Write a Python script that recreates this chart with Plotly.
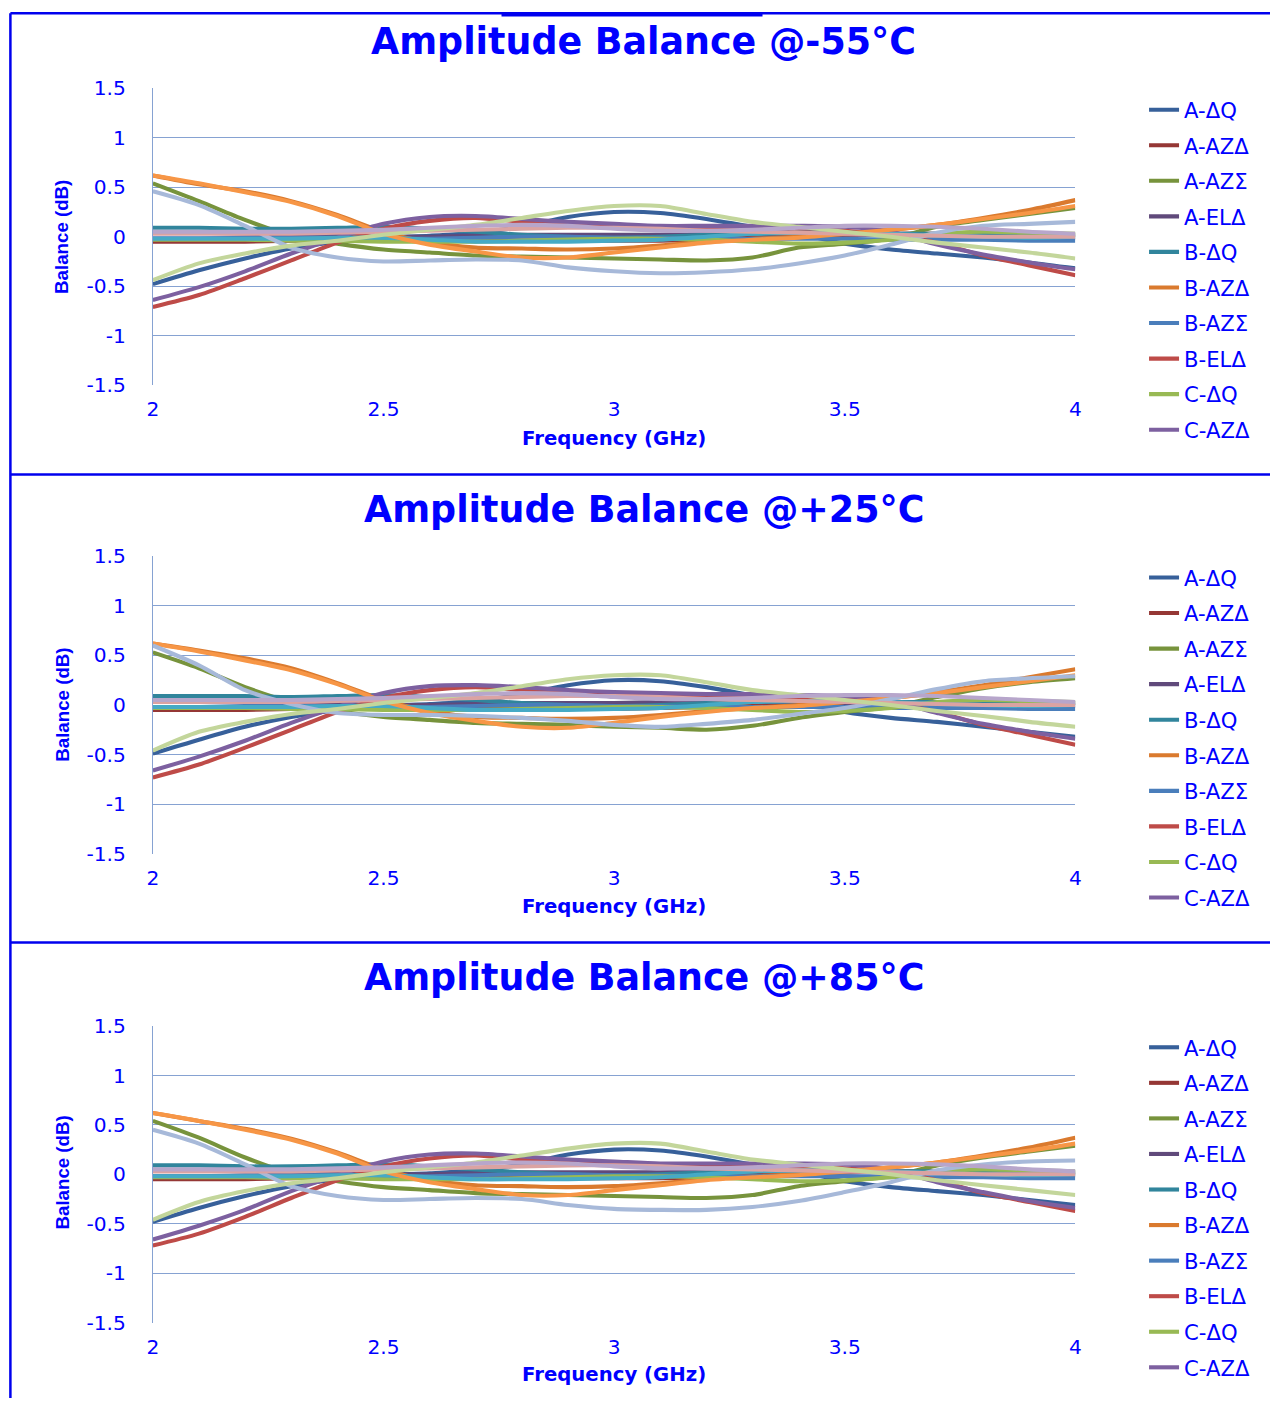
import plotly.graph_objects as go

# Frequency sweep shared by every trace (GHz)
FREQ_GHZ = [2.0, 2.1, 2.2, 2.3, 2.4, 2.5, 2.6, 2.7, 2.8, 2.9, 3.0,
            3.1, 3.2, 3.3, 3.4, 3.5, 3.6, 3.7, 3.8, 3.9, 4.0]

SERIES_NAMES = ["A-ΔQ", "A-AZΔ", "A-AZΣ", "A-ELΔ",
                "B-ΔQ", "B-AZΔ", "B-AZΣ", "B-ELΔ",
                "C-ΔQ", "C-AZΔ", "C-AZΣ", "C-ELΔ",
                "D-ΔQ", "D-AZΔ", "D-AZΣ", "D-ELΔ"]
SERIES_COLORS = ["#37609A", "#953735", "#77933C", "#604A7B",
                 "#31859C", "#DA7A2E", "#4A7EBB", "#BE4B48",
                 "#98B954", "#7D60A0", "#46AAC5", "#F79646",
                 "#A7B9D9", "#DBA3A2", "#C3D69B", "#B7A6CB"]
LEGEND_ENTRIES = 10  # only the first ten series are listed in each legend

PANEL_TITLES = ["Amplitude Balance @-55°C",
                "Amplitude Balance @+25°C",
                "Amplitude Balance @+85°C"]

Y_TICKS = [-1.5, -1.0, -0.5, 0.0, 0.5, 1.0, 1.5]
Y_TICK_LABELS = ["-1.5", "-1", "-0.5", "0", "0.5", "1", "1.5"]
X_TICKS = [2.0, 2.5, 3.0, 3.5, 4.0]
X_TICK_LABELS = ["2", "2.5", "3", "3.5", "4"]

# ---- amplitude balance (dB) at -55 °C ----
M55_A_DQ = [-0.48, -0.34, -0.22, -0.12, -0.05, -0.01, 0.01, 0.04, 0.10, 0.20, 0.25, 0.24, 0.18, 0.10, 0.03, -0.07, -0.13, -0.17, -0.21, -0.26, -0.32]
M55_A_AZD = [-0.05, -0.05, -0.05, -0.04, -0.03, -0.02, -0.02, -0.03, -0.04, -0.04, -0.04, -0.04, -0.03, -0.01, 0.01, 0.02, 0.03, 0.03, 0.02, 0.02, 0.02]
M55_A_AZS = [0.54, 0.36, 0.17, 0.01, -0.07, -0.13, -0.16, -0.19, -0.20, -0.21, -0.22, -0.23, -0.24, -0.21, -0.11, -0.07, -0.02, 0.10, 0.17, 0.23, 0.29]
M55_A_ELD = [0.04, 0.04, 0.03, 0.02, 0.01, 0.00, 0.00, 0.01, 0.02, 0.02, 0.02, 0.02, 0.03, 0.03, 0.03, 0.03, 0.02, 0.01, 0.00, -0.01, -0.01]
M55_B_DQ = [0.09, 0.09, 0.08, 0.08, 0.09, 0.10, 0.08, 0.05, 0.02, 0.00, -0.01, 0.00, 0.02, 0.03, 0.04, 0.04, 0.03, 0.03, 0.02, 0.02, 0.02]
M55_B_AZD = [0.62, 0.53, 0.46, 0.36, 0.22, 0.05, -0.06, -0.11, -0.12, -0.13, -0.12, -0.09, -0.05, -0.02, 0.00, 0.03, 0.07, 0.12, 0.19, 0.27, 0.37]
M55_B_AZS = [-0.02, -0.02, -0.01, -0.01, -0.01, -0.02, -0.02, -0.01, 0.00, 0.00, -0.01, -0.01, -0.02, -0.02, -0.02, -0.02, -0.03, -0.03, -0.03, -0.04, -0.04]
M55_B_ELD = [-0.71, -0.59, -0.42, -0.24, -0.06, 0.08, 0.16, 0.19, 0.15, 0.12, 0.10, 0.09, 0.09, 0.09, 0.08, 0.06, 0.02, -0.06, -0.19, -0.29, -0.39]
M55_C_DQ = [-0.03, -0.03, -0.03, -0.04, -0.04, -0.05, -0.05, -0.05, -0.04, -0.03, -0.02, -0.02, -0.03, -0.05, -0.07, -0.06, -0.03, 0.03, 0.05, 0.04, 0.03]
M55_C_AZD = [-0.64, -0.51, -0.35, -0.17, -0.01, 0.13, 0.20, 0.21, 0.18, 0.15, 0.13, 0.11, 0.11, 0.11, 0.11, 0.10, 0.05, -0.08, -0.18, -0.26, -0.33]
M55_C_AZS = [-0.02, -0.02, -0.02, -0.02, -0.01, -0.01, -0.03, -0.05, -0.05, -0.05, -0.04, -0.03, 0.00, 0.03, 0.04, 0.04, 0.03, 0.01, 0.00, -0.01, 0.00]
M55_C_ELD = [0.62, 0.54, 0.45, 0.35, 0.21, 0.03, -0.08, -0.15, -0.21, -0.21, -0.16, -0.11, -0.06, -0.03, -0.01, 0.03, 0.07, 0.12, 0.18, 0.24, 0.31]
M55_D_DQ = [0.46, 0.32, 0.11, -0.11, -0.21, -0.25, -0.24, -0.23, -0.24, -0.31, -0.35, -0.37, -0.36, -0.33, -0.27, -0.19, -0.08, 0.04, 0.11, 0.13, 0.15]
M55_D_AZD = [0.03, 0.03, 0.03, 0.03, 0.04, 0.05, 0.06, 0.07, 0.08, 0.09, 0.09, 0.08, 0.06, 0.05, 0.04, 0.03, 0.02, 0.01, 0.00, 0.00, 0.00]
M55_D_AZS = [-0.44, -0.27, -0.17, -0.09, -0.04, 0.02, 0.07, 0.12, 0.19, 0.26, 0.31, 0.31, 0.23, 0.15, 0.10, 0.05, 0.00, -0.06, -0.11, -0.16, -0.22]
M55_D_ELD = [0.05, 0.05, 0.05, 0.05, 0.06, 0.07, 0.09, 0.11, 0.12, 0.11, 0.08, 0.06, 0.06, 0.07, 0.09, 0.11, 0.11, 0.10, 0.08, 0.05, 0.03]

# ---- amplitude balance (dB) at +25 °C ----
P25_A_DQ = [-0.49, -0.35, -0.22, -0.12, -0.05, -0.01, 0.01, 0.04, 0.11, 0.20, 0.25, 0.24, 0.18, 0.10, 0.03, -0.07, -0.13, -0.17, -0.22, -0.27, -0.32]
P25_A_AZD = [-0.05, -0.05, -0.05, -0.04, -0.03, -0.02, -0.02, -0.03, -0.04, -0.04, -0.04, -0.03, -0.02, -0.01, 0.01, 0.02, 0.02, 0.03, 0.02, 0.02, 0.02]
P25_A_AZS = [0.53, 0.37, 0.18, 0.03, -0.06, -0.12, -0.15, -0.18, -0.19, -0.20, -0.22, -0.23, -0.25, -0.21, -0.13, -0.07, -0.02, 0.08, 0.17, 0.23, 0.27]
P25_A_ELD = [0.04, 0.04, 0.03, 0.02, 0.01, 0.00, 0.00, 0.01, 0.02, 0.02, 0.02, 0.03, 0.03, 0.03, 0.03, 0.02, 0.02, 0.01, 0.00, -0.01, -0.01]
P25_B_DQ = [0.09, 0.09, 0.09, 0.08, 0.09, 0.10, 0.08, 0.05, 0.02, 0.00, -0.01, 0.00, 0.02, 0.03, 0.04, 0.04, 0.03, 0.03, 0.02, 0.02, 0.02]
P25_B_AZD = [0.62, 0.55, 0.47, 0.37, 0.22, 0.05, -0.06, -0.12, -0.13, -0.14, -0.13, -0.10, -0.06, -0.03, 0.00, 0.03, 0.07, 0.13, 0.20, 0.28, 0.36]
P25_B_AZS = [-0.02, -0.02, -0.01, -0.01, -0.01, -0.02, -0.02, -0.01, 0.00, 0.00, -0.01, -0.01, -0.02, -0.02, -0.02, -0.02, -0.03, -0.03, -0.03, -0.04, -0.04]
P25_B_ELD = [-0.73, -0.60, -0.43, -0.25, -0.07, 0.07, 0.15, 0.18, 0.15, 0.12, 0.10, 0.09, 0.09, 0.08, 0.08, 0.06, 0.02, -0.07, -0.20, -0.30, -0.40]
P25_C_DQ = [-0.03, -0.03, -0.03, -0.04, -0.04, -0.05, -0.05, -0.05, -0.04, -0.03, -0.02, -0.02, -0.03, -0.05, -0.07, -0.06, -0.03, 0.03, 0.05, 0.04, 0.03]
P25_C_AZD = [-0.66, -0.52, -0.36, -0.18, -0.02, 0.12, 0.19, 0.20, 0.18, 0.15, 0.13, 0.12, 0.11, 0.11, 0.10, 0.09, 0.04, -0.08, -0.19, -0.27, -0.34]
P25_C_AZS = [-0.02, -0.02, -0.02, -0.02, -0.01, -0.01, -0.03, -0.05, -0.05, -0.05, -0.04, -0.03, 0.00, 0.03, 0.04, 0.04, 0.03, 0.01, 0.00, -0.01, 0.00]
P25_C_ELD = [0.62, 0.54, 0.45, 0.35, 0.21, 0.04, -0.08, -0.16, -0.22, -0.23, -0.18, -0.12, -0.07, -0.03, -0.01, 0.03, 0.07, 0.12, 0.18, 0.24, 0.30]
P25_D_DQ = [0.60, 0.40, 0.15, 0.01, -0.08, -0.10, -0.10, -0.11, -0.13, -0.16, -0.20, -0.22, -0.19, -0.15, -0.09, -0.03, 0.06, 0.16, 0.24, 0.27, 0.29]
P25_D_AZD = [0.03, 0.03, 0.03, 0.03, 0.04, 0.05, 0.06, 0.07, 0.08, 0.09, 0.09, 0.08, 0.06, 0.05, 0.04, 0.03, 0.02, 0.01, 0.00, 0.00, 0.00]
P25_D_AZS = [-0.46, -0.27, -0.17, -0.09, -0.04, 0.02, 0.07, 0.12, 0.19, 0.26, 0.30, 0.30, 0.23, 0.15, 0.10, 0.05, 0.00, -0.06, -0.11, -0.17, -0.22]
P25_D_ELD = [0.05, 0.05, 0.05, 0.05, 0.06, 0.07, 0.09, 0.11, 0.12, 0.11, 0.08, 0.06, 0.06, 0.07, 0.09, 0.10, 0.10, 0.09, 0.07, 0.05, 0.03]

# ---- amplitude balance (dB) at +85 °C ----
P85_A_DQ = [-0.48, -0.34, -0.22, -0.12, -0.05, -0.01, 0.01, 0.04, 0.10, 0.20, 0.25, 0.24, 0.18, 0.10, 0.03, -0.07, -0.13, -0.17, -0.21, -0.26, -0.31]
P85_A_AZD = [-0.05, -0.05, -0.05, -0.04, -0.03, -0.02, -0.02, -0.03, -0.04, -0.04, -0.04, -0.04, -0.03, -0.01, 0.01, 0.02, 0.03, 0.03, 0.02, 0.02, 0.02]
P85_A_AZS = [0.54, 0.37, 0.17, 0.01, -0.07, -0.13, -0.16, -0.19, -0.20, -0.21, -0.22, -0.23, -0.24, -0.21, -0.12, -0.07, -0.02, 0.09, 0.17, 0.23, 0.29]
P85_A_ELD = [0.04, 0.04, 0.03, 0.02, 0.01, 0.00, 0.00, 0.01, 0.02, 0.02, 0.02, 0.02, 0.03, 0.03, 0.03, 0.03, 0.02, 0.01, 0.00, -0.01, -0.01]
P85_B_DQ = [0.09, 0.09, 0.08, 0.08, 0.09, 0.10, 0.08, 0.05, 0.02, 0.00, -0.01, 0.00, 0.02, 0.03, 0.04, 0.04, 0.03, 0.03, 0.02, 0.02, 0.02]
P85_B_AZD = [0.62, 0.54, 0.46, 0.36, 0.22, 0.05, -0.06, -0.11, -0.12, -0.13, -0.12, -0.09, -0.05, -0.02, 0.00, 0.03, 0.07, 0.12, 0.19, 0.27, 0.37]
P85_B_AZS = [-0.02, -0.02, -0.01, -0.01, -0.01, -0.02, -0.02, -0.01, 0.00, 0.00, -0.01, -0.01, -0.02, -0.02, -0.02, -0.02, -0.03, -0.03, -0.03, -0.04, -0.04]
P85_B_ELD = [-0.72, -0.60, -0.43, -0.24, -0.06, 0.08, 0.16, 0.19, 0.15, 0.12, 0.10, 0.09, 0.09, 0.09, 0.08, 0.06, 0.02, -0.06, -0.19, -0.28, -0.37]
P85_C_DQ = [-0.03, -0.03, -0.03, -0.04, -0.04, -0.05, -0.05, -0.05, -0.04, -0.03, -0.02, -0.02, -0.03, -0.05, -0.07, -0.06, -0.03, 0.03, 0.05, 0.04, 0.03]
P85_C_AZD = [-0.66, -0.52, -0.36, -0.17, -0.01, 0.13, 0.20, 0.21, 0.18, 0.15, 0.13, 0.11, 0.11, 0.11, 0.11, 0.10, 0.05, -0.08, -0.18, -0.27, -0.34]
P85_C_AZS = [-0.02, -0.02, -0.02, -0.02, -0.01, -0.01, -0.03, -0.05, -0.05, -0.05, -0.04, -0.03, 0.00, 0.03, 0.04, 0.04, 0.03, 0.01, 0.00, -0.01, 0.00]
P85_C_ELD = [0.62, 0.54, 0.45, 0.35, 0.21, 0.03, -0.08, -0.15, -0.21, -0.21, -0.16, -0.11, -0.06, -0.03, -0.01, 0.03, 0.07, 0.12, 0.18, 0.24, 0.31]
P85_D_DQ = [0.45, 0.31, 0.10, -0.12, -0.22, -0.26, -0.25, -0.24, -0.25, -0.31, -0.35, -0.36, -0.36, -0.33, -0.27, -0.18, -0.08, 0.04, 0.10, 0.13, 0.14]
P85_D_AZD = [0.03, 0.03, 0.03, 0.03, 0.04, 0.05, 0.06, 0.07, 0.08, 0.09, 0.09, 0.08, 0.06, 0.05, 0.04, 0.03, 0.02, 0.01, 0.00, 0.00, 0.00]
P85_D_AZS = [-0.46, -0.28, -0.17, -0.09, -0.04, 0.02, 0.07, 0.12, 0.19, 0.26, 0.31, 0.31, 0.23, 0.15, 0.10, 0.05, 0.00, -0.06, -0.11, -0.16, -0.21]
P85_D_ELD = [0.05, 0.05, 0.05, 0.05, 0.06, 0.07, 0.09, 0.11, 0.12, 0.11, 0.08, 0.06, 0.06, 0.07, 0.09, 0.11, 0.11, 0.10, 0.08, 0.05, 0.03]

PANEL_SERIES = [
    [M55_A_DQ, M55_A_AZD, M55_A_AZS, M55_A_ELD, M55_B_DQ, M55_B_AZD, M55_B_AZS, M55_B_ELD,
     M55_C_DQ, M55_C_AZD, M55_C_AZS, M55_C_ELD, M55_D_DQ, M55_D_AZD, M55_D_AZS, M55_D_ELD],
    [P25_A_DQ, P25_A_AZD, P25_A_AZS, P25_A_ELD, P25_B_DQ, P25_B_AZD, P25_B_AZS, P25_B_ELD,
     P25_C_DQ, P25_C_AZD, P25_C_AZS, P25_C_ELD, P25_D_DQ, P25_D_AZD, P25_D_AZS, P25_D_ELD],
    [P85_A_DQ, P85_A_AZD, P85_A_AZS, P85_A_ELD, P85_B_DQ, P85_B_AZD, P85_B_AZS, P85_B_ELD,
     P85_C_DQ, P85_C_AZD, P85_C_AZS, P85_C_ELD, P85_D_DQ, P85_D_AZD, P85_D_AZS, P85_D_ELD],
]

# ---- page geometry ----
W, H = 1276, 1410
# The browser page shows the figure slightly inset and scaled; placements
# below are written in page pixels and mapped back into figure space.
PAGE_INSET_X, PAGE_INSET_Y = 2.6, 8.34
PAGE_SCALE_X, PAGE_SCALE_Y = 0.9944, 0.9876
TEXT_SCALE = 1.01

PLOT_L, PLOT_R = 150, 1076           # page x of the 2 GHz / 4 GHz edges
PANEL_TOP = [85, 555, 1027]          # page y of the +1.5 dB gridline
PANEL_BOTTOM = [383, 854, 1325]      # page y of the -1.5 dB gridline
PANEL_OFFSET = [0, 470, 940]

BLUE = "#0000FF"
GRID = "#86A2D2"
FONT = "DejaVu Sans"


def px(x):
    return (x / PAGE_SCALE_X - PAGE_INSET_X) / W


def py(y):
    return 1 - (y / PAGE_SCALE_Y - PAGE_INSET_Y) / H


def fs(size):
    return round(size * TEXT_SCALE, 1)


fig = go.Figure()
layout = dict(
    width=W, height=H,
    margin=dict(l=0, r=0, t=0, b=0),
    paper_bgcolor="white", plot_bgcolor="white",
    showlegend=True,
)
annotations = []
shapes = []

for p in range(3):
    sfx = "" if p == 0 else str(p + 1)
    xa, ya = "x" + sfx, "y" + sfx
    legend_id = "legend" + sfx
    for i, (name, vals) in enumerate(zip(SERIES_NAMES, PANEL_SERIES[p])):
        fig.add_trace(go.Scatter(
            x=FREQ_GHZ, y=vals, name=name, mode="lines",
            line=dict(color=SERIES_COLORS[i], width=4.1, shape="spline", smoothing=0.8),
            xaxis=xa, yaxis=ya, legend=legend_id,
            legendgroup=f"{p}-{i}",
            showlegend=i < LEGEND_ENTRIES,
            hovertemplate=name + ": %{y:.2f} dB @ %{x:.2f} GHz<extra></extra>",
        ))

    top, bottom = PANEL_TOP[p], PANEL_BOTTOM[p]
    layout["xaxis" + sfx] = dict(
        domain=[px(PLOT_L), px(PLOT_R)], anchor=ya, range=[2, 4],
        tickvals=X_TICKS, ticktext=X_TICK_LABELS, showgrid=False,
        zeroline=False, showline=False, ticks="", ticklabelstandoff=10,
        tickfont=dict(family=FONT, size=fs(20), color=BLUE), fixedrange=True,
    )
    layout["yaxis" + sfx] = dict(
        domain=[py(bottom), py(top)], anchor=xa, range=[-1.5, 1.5],
        tickvals=Y_TICKS, ticktext=Y_TICK_LABELS, showgrid=True,
        gridcolor=GRID, gridwidth=1, zeroline=False,
        showline=True, linecolor=GRID, linewidth=1, ticks="",
        ticklabelstandoff=22,
        tickfont=dict(family=FONT, size=fs(20), color=BLUE), fixedrange=True,
    )
    layout[legend_id] = dict(
        x=px(1145), y=py(PANEL_TOP[p] + 1), xanchor="left", yanchor="top",
        font=dict(family=FONT, size=fs(21), color=BLUE),
        traceorder="grouped", tracegroupgap=5, itemwidth=30,
        bgcolor="rgba(0,0,0,0)", borderwidth=0,
    )
    off = PANEL_OFFSET[p]
    annotations.append(dict(
        text=PANEL_TITLES[p], x=px(643), y=py(38 + off), xref="paper", yref="paper",
        showarrow=False, xanchor="center", yanchor="middle",
        font=dict(family=FONT, size=fs(36), color=BLUE, weight="bold"),
    ))
    annotations.append(dict(
        text="Frequency (GHz)", x=px(613), y=py(437 + off), xref="paper", yref="paper",
        showarrow=False, xanchor="center", yanchor="middle",
        font=dict(family=FONT, size=fs(19.5), color=BLUE, weight="bold"),
    ))
    annotations.append(dict(
        text="Balance (dB)", x=px(59), y=py(234 + off), xref="paper", yref="paper",
        showarrow=False, xanchor="center", yanchor="middle", textangle=-90,
        font=dict(family="Liberation Sans Narrow, Liberation Sans, Arial", size=fs(18.5),
                  color=BLUE, weight="bold"),
    ))

# frame lines around and between the three panels
frame = dict(type="line", xref="paper", yref="paper", line=dict(color="#0000EE", width=2.5))
top_edge = 1 - 1.2 / H
shapes.append({**frame, "x0": px(7), "x1": px(7), "y0": top_edge, "y1": 0})
shapes.append({**frame, "x0": px(7), "x1": 1, "y0": top_edge, "y1": top_edge})
for yy in (473, 943):
    shapes.append({**frame, "x0": px(7), "x1": 1, "y0": py(yy), "y1": py(yy)})
shapes.append(dict(type="rect", xref="paper", yref="paper",
                   x0=px(500), x1=px(762), y0=1 - 4.5 / H, y1=1,
                   fillcolor="#0000EE", line=dict(width=0)))

layout["annotations"] = annotations
layout["shapes"] = shapes
fig.update_layout(**layout)

fig.write_html("out.html", include_plotlyjs=True, full_html=True,
               config={"displayModeBar": False})
